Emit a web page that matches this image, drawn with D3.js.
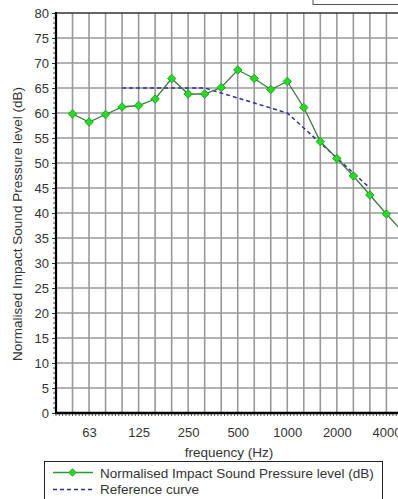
<!DOCTYPE html>
<html>
<head>
<meta charset="utf-8">
<script src="https://cdn.jsdelivr.net/npm/d3@7"></script>
<style>
html,body{margin:0;padding:0;background:#fff;overflow:hidden;}
svg{display:block;font-family:"Liberation Sans",Arial,sans-serif;}
</style>
</head>
<body>
<svg id="chart" width="398" height="499"></svg>
<script>
// Data
const bands = [50,63,80,100,125,160,200,250,315,400,500,630,800,1000,1250,1600,2000,2500,3150,4000,5000];
const measured = [59.8,58.2,59.7,61.2,61.5,62.8,66.9,63.8,63.8,65.1,68.6,66.9,64.7,66.3,61.1,54.3,50.9,47.4,43.6,39.8,36.2];
const refBands = [100,125,160,200,250,315,400,500,630,800,1000,1250,1600,2000,2500,3150];
const refValues = [65,65,65,65,65,65,64,63,62,61,60,57,54,51,48,45];
const xTickLabels = ["63","125","250","500","1000","2000","4000"];
const yTicks = d3.range(0,81,5);
const yTitle = "Normalised Impact Sound Pressure level (dB)";
const xTitle = "frequency (Hz)";
const legendLabels = ["Normalised Impact Sound Pressure level (dB)","Reference curve"];

(function(){
const svg = d3.select("#chart");
const pl = 56, pt = 13, pb = 413;
const bandW = 16.52;
const x = d3.scaleLinear().domain([-1, 22]).range([pl, pl + 23*bandW]);
const y = d3.scaleLinear().domain([0, 80]).range([pb, pt]);
const bi = f => bands.indexOf(f);
const pr = x(22);

// grid
const g = svg.append("g");
g.selectAll("line.vg").data(d3.range(0, 22)).join("line")
  .attr("x1", d => x(d)).attr("x2", d => x(d))
  .attr("y1", pt).attr("y2", pb)
  .attr("stroke", "#999").attr("stroke-width", 1.6);
g.selectAll("line.hg").data(yTicks.filter(d => d > 0 && d < 80)).join("line")
  .attr("x1", pl).attr("x2", pr)
  .attr("y1", d => y(d)).attr("y2", d => y(d))
  .attr("stroke", "#999").attr("stroke-width", 1.6);
g.append("line").attr("x1", pl).attr("x2", pr).attr("y1", y(80)).attr("y2", y(80))
  .attr("stroke", "#333").attr("stroke-width", 1.5);

// Y axis
const yAxis = d3.axisLeft(y).tickValues(yTicks).tickSize(4).tickPadding(3);
const ya = svg.append("g").attr("transform", `translate(${pl},0)`).call(yAxis);
ya.select(".domain").remove();
ya.selectAll("text").attr("font-size", 13).attr("fill", "#333").attr("font-family", "Liberation Sans, Arial, sans-serif");
ya.selectAll(".tick line").attr("stroke", "#333");
svg.append("g").selectAll("line").data(d3.range(0, 81).filter(d => d % 5 !== 0)).join("line")
  .attr("x1", pl - 3).attr("x2", pl).attr("y1", d => y(d)).attr("y2", d => y(d))
  .attr("stroke", "#555").attr("stroke-width", 1);
svg.append("line").attr("x1", pl).attr("x2", pl).attr("y1", pt - 1).attr("y2", pb + 1)
  .attr("stroke", "#000").attr("stroke-width", 2.2);

// X axis
const xAxis = d3.axisBottom(x)
  .tickValues(xTickLabels.map(l => bi(+l)))
  .tickFormat((d, i) => xTickLabels[i]).tickSize(0).tickPadding(15);
const xa = svg.append("g").attr("transform", `translate(0,${pb})`).call(xAxis);
xa.select(".domain").remove();
xa.selectAll("text").attr("font-size", 13).attr("fill", "#333").attr("font-family", "Liberation Sans, Arial, sans-serif");
svg.append("g").selectAll("line").data(d3.range(-1, 22, 0.2)).join("line")
  .attr("x1", d => x(d)).attr("x2", d => x(d)).attr("y1", pb).attr("y2", pb + 3)
  .attr("stroke", "#555").attr("stroke-width", 1);
svg.append("line").attr("x1", pl - 1).attr("x2", pr).attr("y1", pb).attr("y2", pb)
  .attr("stroke", "#000").attr("stroke-width", 2.4);

// titles
svg.append("text").attr("x", 229).attr("y", 457).attr("text-anchor", "middle")
  .attr("font-size", 13.5).attr("fill", "#333").text(xTitle);
svg.append("text").attr("transform", "translate(22,224) rotate(-90)").attr("text-anchor", "middle")
  .attr("font-size", 13.5).attr("fill", "#333").text(yTitle);

// reference curve
const line = d3.line().x(d => x(d[0])).y(d => y(d[1]));
svg.append("path").datum(refBands.map((f, i) => [bi(f), refValues[i]]))
  .attr("d", line).attr("fill", "none").attr("stroke", "#2f2f9a").attr("stroke-width", 1.5)
  .attr("stroke-dasharray", "4,3");

// measured
svg.append("path").datum(measured.map((v, i) => [i, v]))
  .attr("d", line).attr("fill", "none").attr("stroke", "#3a7a3a").attr("stroke-width", 1.3);
svg.append("g").selectAll("path").data(measured).join("path")
  .attr("transform", (d, i) => `translate(${x(i)},${y(d)}) rotate(45)`)
  .attr("d", d3.symbol().type(d3.symbolSquare).size(36))
  .attr("fill", "#22dd22").attr("stroke", "#1a9a1a").attr("stroke-width", 0.8);

// top-right partial box
svg.append("rect").attr("x", 313).attr("y", -10).attr("width", 120).attr("height", 14.5)
  .attr("fill", "#fff").attr("stroke", "#555").attr("stroke-width", 1);

// legend
const lg = svg.append("g");
lg.append("rect").attr("x", 44.5).attr("y", 461.5).attr("width", 338).attr("height", 50)
  .attr("fill", "#fff").attr("stroke", "#222").attr("stroke-width", 1);
lg.append("line").attr("x1", 53).attr("x2", 93).attr("y1", 472.5).attr("y2", 472.5)
  .attr("stroke", "#2a9a2a").attr("stroke-width", 1.5);
lg.append("path").attr("transform", "translate(72.5,472.5) rotate(45)")
  .attr("d", d3.symbol().type(d3.symbolSquare).size(28))
  .attr("fill", "#22dd22").attr("stroke", "#1a9a1a").attr("stroke-width", 0.8);
lg.append("line").attr("x1", 53).attr("x2", 93).attr("y1", 489.5).attr("y2", 489.5)
  .attr("stroke", "#2f2f9a").attr("stroke-width", 1.3).attr("stroke-dasharray", "4,3");
lg.selectAll("text").data(legendLabels).join("text")
  .attr("x", 100).attr("y", (d, i) => 477.5 + i * 16.5)
  .attr("font-size", 13.5).attr("fill", "#333").text(d => d);
})();
</script>
</body>
</html>
